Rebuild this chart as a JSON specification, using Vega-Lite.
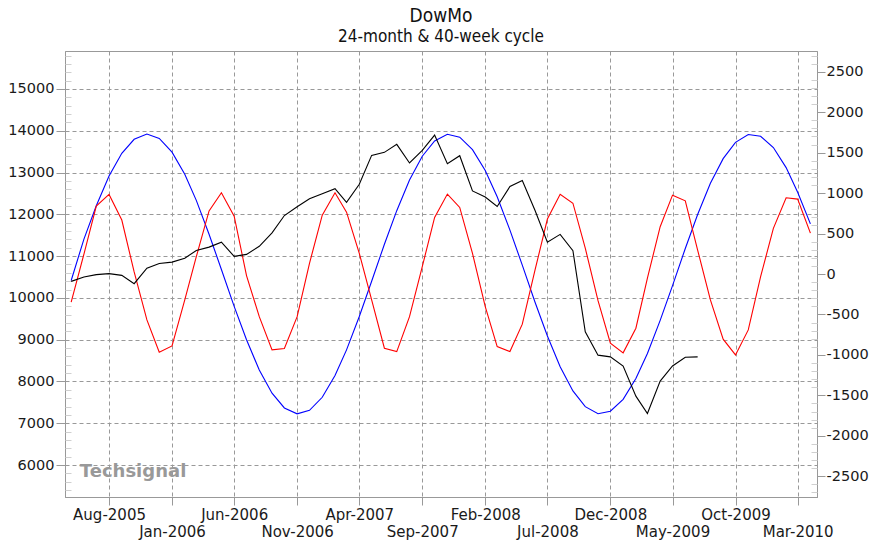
{
  "$schema": "https://vega.github.io/schema/vega-lite/v6.json",
  "width": 752,
  "height": 446,
  "autosize": {"type": "none"},
  "padding": {"left": 65, "top": 51, "right": 54, "bottom": 43},
  "background": "white",
  "title": {
    "text": "DowMo",
    "subtitle": "24-month & 40-week cycle",
    "font": "DejaVu Sans Condensed, DejaVu Sans",
    "fontSize": 19,
    "fontWeight": "normal",
    "color": "#111111",
    "subtitleFont": "DejaVu Sans Condensed, DejaVu Sans",
    "subtitleFontSize": 17,
    "subtitleColor": "#111111",
    "subtitlePadding": 3,
    "offset": 6,
    "anchor": "middle"
  },
  "config": {
    "view": {"stroke": "#999999", "strokeWidth": 1},
    "font": "DejaVu Sans"
  },
  "datasets": {
    "dow": [
      {"date": "2005-05-01", "value": 10396},
      {"date": "2005-06-01", "value": 10499},
      {"date": "2005-07-01", "value": 10556},
      {"date": "2005-08-01", "value": 10580},
      {"date": "2005-09-01", "value": 10539},
      {"date": "2005-10-01", "value": 10341},
      {"date": "2005-11-01", "value": 10710},
      {"date": "2005-12-01", "value": 10825},
      {"date": "2006-01-01", "value": 10857},
      {"date": "2006-02-01", "value": 10950},
      {"date": "2006-03-01", "value": 11136},
      {"date": "2006-04-01", "value": 11215},
      {"date": "2006-05-01", "value": 11334},
      {"date": "2006-06-01", "value": 10993},
      {"date": "2006-07-01", "value": 11041},
      {"date": "2006-08-01", "value": 11235},
      {"date": "2006-09-01", "value": 11555},
      {"date": "2006-10-01", "value": 11971},
      {"date": "2006-11-01", "value": 12180},
      {"date": "2006-12-01", "value": 12370},
      {"date": "2007-01-01", "value": 12495},
      {"date": "2007-02-01", "value": 12615},
      {"date": "2007-03-01", "value": 12289},
      {"date": "2007-04-01", "value": 12720},
      {"date": "2007-05-01", "value": 13410},
      {"date": "2007-06-01", "value": 13483},
      {"date": "2007-07-01", "value": 13675},
      {"date": "2007-08-01", "value": 13229},
      {"date": "2007-09-01", "value": 13530},
      {"date": "2007-10-01", "value": 13895},
      {"date": "2007-11-01", "value": 13212},
      {"date": "2007-12-01", "value": 13403},
      {"date": "2008-01-01", "value": 12560},
      {"date": "2008-02-01", "value": 12415},
      {"date": "2008-03-01", "value": 12186},
      {"date": "2008-04-01", "value": 12667},
      {"date": "2008-05-01", "value": 12807},
      {"date": "2008-06-01", "value": 12091},
      {"date": "2008-07-01", "value": 11334},
      {"date": "2008-08-01", "value": 11520},
      {"date": "2008-09-01", "value": 11130},
      {"date": "2008-10-01", "value": 9190},
      {"date": "2008-11-01", "value": 8630},
      {"date": "2008-12-01", "value": 8590},
      {"date": "2009-01-01", "value": 8370},
      {"date": "2009-02-01", "value": 7650},
      {"date": "2009-03-01", "value": 7235},
      {"date": "2009-04-01", "value": 8010},
      {"date": "2009-05-01", "value": 8370},
      {"date": "2009-06-01", "value": 8580},
      {"date": "2009-07-01", "value": 8590}
    ],
    "cycles": [
      {"date": "2005-05-01", "series": "24-month", "value": -80},
      {"date": "2005-06-01", "series": "24-month", "value": 432},
      {"date": "2005-07-01", "series": "24-month", "value": 844},
      {"date": "2005-08-01", "series": "24-month", "value": 1211},
      {"date": "2005-09-01", "series": "24-month", "value": 1492},
      {"date": "2005-10-01", "series": "24-month", "value": 1665},
      {"date": "2005-11-01", "series": "24-month", "value": 1730},
      {"date": "2005-12-01", "series": "24-month", "value": 1677},
      {"date": "2006-01-01", "series": "24-month", "value": 1507},
      {"date": "2006-02-01", "series": "24-month", "value": 1232},
      {"date": "2006-03-01", "series": "24-month", "value": 910},
      {"date": "2006-04-01", "series": "24-month", "value": 491},
      {"date": "2006-05-01", "series": "24-month", "value": 56},
      {"date": "2006-06-01", "series": "24-month", "value": -401},
      {"date": "2006-07-01", "series": "24-month", "value": -813},
      {"date": "2006-08-01", "series": "24-month", "value": -1187},
      {"date": "2006-09-01", "series": "24-month", "value": -1474},
      {"date": "2006-10-01", "series": "24-month", "value": -1656},
      {"date": "2006-11-01", "series": "24-month", "value": -1729},
      {"date": "2006-12-01", "series": "24-month", "value": -1685},
      {"date": "2007-01-01", "series": "24-month", "value": -1524},
      {"date": "2007-02-01", "series": "24-month", "value": -1256},
      {"date": "2007-03-01", "series": "24-month", "value": -938},
      {"date": "2007-04-01", "series": "24-month", "value": -525},
      {"date": "2007-05-01", "series": "24-month", "value": -90},
      {"date": "2007-06-01", "series": "24-month", "value": 368},
      {"date": "2007-07-01", "series": "24-month", "value": 783},
      {"date": "2007-08-01", "series": "24-month", "value": 1161},
      {"date": "2007-09-01", "series": "24-month", "value": 1456},
      {"date": "2007-10-01", "series": "24-month", "value": 1645},
      {"date": "2007-11-01", "series": "24-month", "value": 1728},
      {"date": "2007-12-01", "series": "24-month", "value": 1692},
      {"date": "2008-01-01", "series": "24-month", "value": 1538},
      {"date": "2008-02-01", "series": "24-month", "value": 1279},
      {"date": "2008-03-01", "series": "24-month", "value": 955},
      {"date": "2008-04-01", "series": "24-month", "value": 543},
      {"date": "2008-05-01", "series": "24-month", "value": 109},
      {"date": "2008-06-01", "series": "24-month", "value": -349},
      {"date": "2008-07-01", "series": "24-month", "value": -766},
      {"date": "2008-08-01", "series": "24-month", "value": -1146},
      {"date": "2008-09-01", "series": "24-month", "value": -1446},
      {"date": "2008-10-01", "series": "24-month", "value": -1640},
      {"date": "2008-11-01", "series": "24-month", "value": -1727},
      {"date": "2008-12-01", "series": "24-month", "value": -1697},
      {"date": "2009-01-01", "series": "24-month", "value": -1549},
      {"date": "2009-02-01", "series": "24-month", "value": -1292},
      {"date": "2009-03-01", "series": "24-month", "value": -983},
      {"date": "2009-04-01", "series": "24-month", "value": -573},
      {"date": "2009-05-01", "series": "24-month", "value": -143},
      {"date": "2009-06-01", "series": "24-month", "value": 315},
      {"date": "2009-07-01", "series": "24-month", "value": 735},
      {"date": "2009-08-01", "series": "24-month", "value": 1121},
      {"date": "2009-09-01", "series": "24-month", "value": 1426},
      {"date": "2009-10-01", "series": "24-month", "value": 1628},
      {"date": "2009-11-01", "series": "24-month", "value": 1724},
      {"date": "2009-12-01", "series": "24-month", "value": 1703},
      {"date": "2010-01-01", "series": "24-month", "value": 1563},
      {"date": "2010-02-01", "series": "24-month", "value": 1315},
      {"date": "2010-03-01", "series": "24-month", "value": 1011},
      {"date": "2010-04-01", "series": "24-month", "value": 620},
      {"date": "2005-05-01", "series": "40-week", "value": -349},
      {"date": "2005-06-01", "series": "40-week", "value": 247},
      {"date": "2005-07-01", "series": "40-week", "value": 840},
      {"date": "2005-08-01", "series": "40-week", "value": 984},
      {"date": "2005-09-01", "series": "40-week", "value": 667},
      {"date": "2005-10-01", "series": "40-week", "value": 25},
      {"date": "2005-11-01", "series": "40-week", "value": -568},
      {"date": "2005-12-01", "series": "40-week", "value": -967},
      {"date": "2006-01-01", "series": "40-week", "value": -889},
      {"date": "2006-02-01", "series": "40-week", "value": -321},
      {"date": "2006-03-01", "series": "40-week", "value": 214},
      {"date": "2006-04-01", "series": "40-week", "value": 780},
      {"date": "2006-05-01", "series": "40-week", "value": 1004},
      {"date": "2006-06-01", "series": "40-week", "value": 715},
      {"date": "2006-07-01", "series": "40-week", "value": -20},
      {"date": "2006-08-01", "series": "40-week", "value": -527},
      {"date": "2006-09-01", "series": "40-week", "value": -938},
      {"date": "2006-10-01", "series": "40-week", "value": -922},
      {"date": "2006-11-01", "series": "40-week", "value": -527},
      {"date": "2006-12-01", "series": "40-week", "value": 132},
      {"date": "2007-01-01", "series": "40-week", "value": 728},
      {"date": "2007-02-01", "series": "40-week", "value": 1004},
      {"date": "2007-03-01", "series": "40-week", "value": 765},
      {"date": "2007-04-01", "series": "40-week", "value": 255},
      {"date": "2007-05-01", "series": "40-week", "value": -321},
      {"date": "2007-06-01", "series": "40-week", "value": -918},
      {"date": "2007-07-01", "series": "40-week", "value": -959},
      {"date": "2007-08-01", "series": "40-week", "value": -527},
      {"date": "2007-09-01", "series": "40-week", "value": 91},
      {"date": "2007-10-01", "series": "40-week", "value": 700},
      {"date": "2007-11-01", "series": "40-week", "value": 988},
      {"date": "2007-12-01", "series": "40-week", "value": 823},
      {"date": "2008-01-01", "series": "40-week", "value": 255},
      {"date": "2008-02-01", "series": "40-week", "value": -403},
      {"date": "2008-03-01", "series": "40-week", "value": -897},
      {"date": "2008-04-01", "series": "40-week", "value": -959},
      {"date": "2008-05-01", "series": "40-week", "value": -620},
      {"date": "2008-06-01", "series": "40-week", "value": 50},
      {"date": "2008-07-01", "series": "40-week", "value": 680},
      {"date": "2008-08-01", "series": "40-week", "value": 986},
      {"date": "2008-09-01", "series": "40-week", "value": 875},
      {"date": "2008-10-01", "series": "40-week", "value": 320},
      {"date": "2008-11-01", "series": "40-week", "value": -330},
      {"date": "2008-12-01", "series": "40-week", "value": -856},
      {"date": "2009-01-01", "series": "40-week", "value": -975},
      {"date": "2009-02-01", "series": "40-week", "value": -670},
      {"date": "2009-03-01", "series": "40-week", "value": -50},
      {"date": "2009-04-01", "series": "40-week", "value": 585},
      {"date": "2009-05-01", "series": "40-week", "value": 975},
      {"date": "2009-06-01", "series": "40-week", "value": 905},
      {"date": "2009-07-01", "series": "40-week", "value": 296},
      {"date": "2009-08-01", "series": "40-week", "value": -321},
      {"date": "2009-09-01", "series": "40-week", "value": -806},
      {"date": "2009-10-01", "series": "40-week", "value": -1000},
      {"date": "2009-11-01", "series": "40-week", "value": -691},
      {"date": "2009-12-01", "series": "40-week", "value": -33},
      {"date": "2010-01-01", "series": "40-week", "value": 564},
      {"date": "2010-02-01", "series": "40-week", "value": 942},
      {"date": "2010-03-01", "series": "40-week", "value": 926},
      {"date": "2010-04-01", "series": "40-week", "value": 505}
    ]
  },
  "encoding": {
    "x": {
      "field": "date",
      "type": "temporal",
      "scale": {
        "type": "utc",
        "domain": [
          {"year": 2005, "month": 4, "date": 16, "utc": true},
          {"year": 2010, "month": 4, "date": 17, "utc": true}
        ]
      },
      "axis": {
        "title": null,
        "values": [
          {"year": 2005, "month": 8, "date": 1, "utc": true},
          {"year": 2006, "month": 1, "date": 1, "utc": true},
          {"year": 2006, "month": 6, "date": 1, "utc": true},
          {"year": 2006, "month": 11, "date": 1, "utc": true},
          {"year": 2007, "month": 4, "date": 1, "utc": true},
          {"year": 2007, "month": 9, "date": 1, "utc": true},
          {"year": 2008, "month": 2, "date": 1, "utc": true},
          {"year": 2008, "month": 7, "date": 1, "utc": true},
          {"year": 2008, "month": 12, "date": 1, "utc": true},
          {"year": 2009, "month": 5, "date": 1, "utc": true},
          {"year": 2009, "month": 10, "date": 1, "utc": true},
          {"year": 2010, "month": 3, "date": 1, "utc": true}
        ],
        "labelExpr": "utcFormat(datum.value, '%b-%Y')",
        "labelFont": "DejaVu Sans",
        "labelFontSize": 15,
        "labelColor": "#1a1a1a",
        "labelPadding": {
          "condition": {
            "test": "round(((utcyear(datum.value) - 2005) * 12 + utcmonth(datum.value) - 7) / 5) % 2 == 1",
            "value": 19
          },
          "value": 2
        },
        "labelOverlap": false,
        "labelFlush": false,
        "labelBound": false,
        "grid": true,
        "gridColor": "#999999",
        "gridDash": [4, 3],
        "gridWidth": 1,
        "tickColor": "#999999",
        "tickSize": 8,
        "domainColor": "#999999"
      }
    }
  },
  "layer": [
    {
      "data": {"name": "cycles"},
      "layer": [
        {
          "mark": {"type": "line", "strokeWidth": 1.1, "interpolate": "linear"},
          "encoding": {
            "y": {
              "field": "value",
              "type": "quantitative",
              "scale": {"domain": [-2757, 2757], "nice": false, "zero": false},
              "axis": {
                "orient": "right",
                "title": null,
                "values": [-2500, -2000, -1500, -1000, -500, 0, 500, 1000, 1500, 2000, 2500],
                "labelExpr": "'' + datum.value",
                "grid": false,
                "labelFont": "DejaVu Sans",
                "labelFontSize": 14.5,
                "labelColor": "#1a1a1a",
                "labelPadding": 1,
                "tickSize": 8,
                "tickColor": "#999999",
                "domainColor": "#999999"
              }
            },
            "color": {
              "field": "series",
              "type": "nominal",
              "scale": {"domain": ["24-month", "40-week"], "range": ["#0000ff", "#ff0000"]},
              "legend": null
            }
          }
        },
        {
          "mark": {"type": "line", "opacity": 0},
          "encoding": {
            "y": {
              "field": "value",
              "type": "quantitative",
              "axis": {
                "orient": "right",
                "title": null,
                "values": [-2700, -2600, -2400, -2300, -2200, -2100, -1900, -1800, -1700, -1600, -1400, -1300, -1200, -1100, -900, -800, -700, -600, -400, -300, -200, -100, 100, 200, 300, 400, 600, 700, 800, 900, 1100, 1200, 1300, 1400, 1600, 1700, 1800, 1900, 2100, 2200, 2300, 2400, 2600, 2700],
                "labels": false,
                "domain": false,
                "grid": false,
                "tickSize": -6,
                "tickColor": "#d0d0d0"
              }
            },
            "detail": {"field": "series", "type": "nominal"}
          }
        }
      ],
      "resolve": {"axis": {"y": "independent"}}
    },
    {
      "layer": [
        {
          "data": {"name": "dow"},
          "mark": {"type": "line", "color": "#000000", "strokeWidth": 1.1},
          "encoding": {
            "y": {
              "field": "value",
              "type": "quantitative",
              "scale": {"domain": [5236, 15908], "nice": false, "zero": false},
              "axis": {
                "orient": "left",
                "title": null,
                "values": [6000, 7000, 8000, 9000, 10000, 11000, 12000, 13000, 14000, 15000],
                "labelExpr": "'' + datum.value",
                "grid": true,
                "gridColor": "#999999",
                "gridDash": [4, 3],
                "labelFont": "DejaVu Sans",
                "labelFontSize": 14.5,
                "labelColor": "#1a1a1a",
                "labelPadding": 2,
                "tickSize": 9,
                "tickColor": "#999999",
                "domainColor": "#999999"
              }
            }
          }
        },
        {
          "data": {"name": "dow"},
          "mark": {"type": "line", "opacity": 0},
          "encoding": {
            "y": {
              "field": "value",
              "type": "quantitative",
              "axis": {
                "orient": "left",
                "title": null,
                "values": [5400, 5600, 5800, 6200, 6400, 6600, 6800, 7200, 7400, 7600, 7800, 8200, 8400, 8600, 8800, 9200, 9400, 9600, 9800, 10200, 10400, 10600, 10800, 11200, 11400, 11600, 11800, 12200, 12400, 12600, 12800, 13200, 13400, 13600, 13800, 14200, 14400, 14600, 14800, 15200, 15400, 15600, 15800],
                "labels": false,
                "domain": false,
                "grid": false,
                "tickSize": -6,
                "tickColor": "#d0d0d0"
              }
            }
          }
        },
        {
          "data": {"values": [{"date": "2005-05-22", "value": 5830, "label": "Techsignal"}]},
          "mark": {"type": "text", "align": "left", "baseline": "middle", "font": "DejaVu Sans", "fontWeight": "bold", "fontSize": 18, "color": "#999999"},
          "encoding": {
            "y": {"field": "value", "type": "quantitative", "axis": null},
            "text": {"field": "label"}
          }
        }
      ],
      "resolve": {"axis": {"y": "independent"}}
    }
  ],
  "resolve": {"scale": {"y": "independent"}}
}
